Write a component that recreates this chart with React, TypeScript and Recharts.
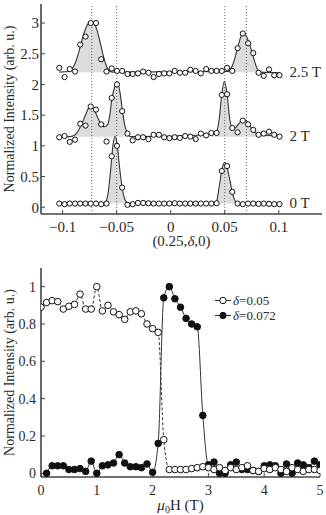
import {
  ComposedChart,
  Scatter,
  Line,
  Area,
  XAxis,
  YAxis,
  ReferenceLine,
  ReferenceDot,
  Legend,
} from 'recharts';

const SERIF = '"Liberation Serif", "Times New Roman", serif';
const INK = '#2a2a2a';
const FRAME = '#444';
const SHADE = '#dcdcdc';

// ---- upper panel: scans along (0.25, δ, 0) at 0, 2 and 2.5 T ----
const qPos = [
  -0.1031, -0.0982, -0.0934, -0.0885, -0.0837, -0.0788, -0.074, -0.0691, -0.0643, -0.0594,
  -0.0546, -0.0497, -0.0449, -0.04, -0.0352, -0.0303, -0.0255, -0.0206, -0.0158, -0.0109,
  -0.006, -0.0012, 0.0037, 0.0085, 0.0134, 0.0182, 0.0231, 0.0279, 0.0328, 0.0376,
  0.0425, 0.0473, 0.0522, 0.057, 0.0619, 0.0667, 0.0716, 0.0764, 0.0813, 0.0861,
  0.091, 0.0958, 0.1007,
];
const scan0T = [
  0.06, 0.05, 0.06, 0.06, 0.06, 0.06, 0.06, 0.06, 0.05, 0.06,
  0.83, 1.0, 0.32, 0.04, 0.05, 0.07, 0.07, 0.065, 0.06, 0.06,
  0.06, 0.06, 0.065, 0.06, 0.06, 0.06, 0.06, 0.06, 0.06, 0.06,
  0.065, 0.59, 0.67, 0.25, 0.06, 0.05, 0.06, 0.06, 0.055, 0.06,
  0.055, 0.05, 0.05,
];
const scan2T = [
  1.14, 1.16, 1.065, 1.1, 1.36, 1.33, 1.64, 1.59, 1.35, 1.07,
  1.78, 2.0, 1.565, 1.2, 1.09, 1.14, 1.14, 1.11, 1.18, 1.18,
  1.14, 1.125, 1.14, 1.13, 1.16, 1.15, 1.11, 1.2, 1.17, 1.21,
  1.21, 1.83, 1.84, 1.29, 1.22, 1.41, 1.35, 1.26, 1.18, 1.2,
  1.23, 1.18, 1.15,
];
const scan25T = [
  2.27, 2.12, 2.25, 2.21, 2.65, 2.78, 3.0, 3.0, 2.41, 2.21,
  2.26, 2.22, 2.22, 2.17, 2.17, 2.18, 2.21, 2.19, 2.12, 2.17,
  2.18, 2.18, 2.22, 2.19, 2.19, 2.24, 2.22, 2.18, 2.25, 2.22,
  2.22, 2.22, 2.27, 2.22, 2.59, 2.83, 2.67, 2.51, 2.19, 2.14,
  2.245, 2.15, 2.15,
];

// fitted peak profiles, [q, intensity]
const fit0T: [number, number][] = [
  [-0.103, 0.06], [-0.063, 0.06], [-0.0605, 0.08], [-0.058, 0.22], [-0.0555, 0.62],
  [-0.0535, 1.0], [-0.0515, 1.15], [-0.0495, 1.02], [-0.0475, 0.68], [-0.045, 0.33],
  [-0.0425, 0.13], [-0.04, 0.07], [-0.037, 0.06], [0.04, 0.06], [0.0425, 0.1],
  [0.045, 0.35], [0.0475, 0.62], [0.05, 0.73], [0.0525, 0.62], [0.055, 0.42],
  [0.0575, 0.2], [0.06, 0.09], [0.0625, 0.06], [0.101, 0.06],
];
const fit2T: [number, number][] = [
  [-0.103, 1.14], [-0.093, 1.15], [-0.0885, 1.18], [-0.0845, 1.28], [-0.0805, 1.43],
  [-0.077, 1.58], [-0.0745, 1.66], [-0.072, 1.62], [-0.0685, 1.5], [-0.065, 1.37],
  [-0.0615, 1.31], [-0.0585, 1.34], [-0.0565, 1.48], [-0.0545, 1.75], [-0.052, 1.95],
  [-0.0495, 2.04], [-0.047, 1.88], [-0.0445, 1.55], [-0.042, 1.3], [-0.0395, 1.19],
  [-0.037, 1.15], [0.037, 1.18], [0.0415, 1.2], [0.045, 1.45], [0.0472, 1.83],
  [0.0497, 2.05], [0.0522, 1.84], [0.0545, 1.45], [0.057, 1.29], [0.0595, 1.29],
  [0.0625, 1.35], [0.0655, 1.41], [0.068, 1.43], [0.0715, 1.38], [0.075, 1.28],
  [0.079, 1.2], [0.084, 1.18], [0.101, 1.16],
];
const fit25T: [number, number][] = [
  [-0.103, 2.2], [-0.0935, 2.21], [-0.091, 2.26], [-0.0885, 2.34], [-0.086, 2.47],
  [-0.0835, 2.63], [-0.081, 2.79], [-0.0785, 2.92], [-0.076, 3.0], [-0.0735, 3.03],
  [-0.071, 3.0], [-0.0685, 2.9], [-0.066, 2.74], [-0.0635, 2.55], [-0.061, 2.38],
  [-0.0585, 2.26], [-0.056, 2.21], [-0.053, 2.2], [0.053, 2.21], [0.0555, 2.25],
  [0.058, 2.35], [0.0605, 2.5], [0.063, 2.67], [0.0655, 2.8], [0.0675, 2.84],
  [0.07, 2.79], [0.0725, 2.68], [0.075, 2.54], [0.0775, 2.38], [0.08, 2.26],
  [0.0825, 2.2], [0.101, 2.19],
];

const peakMarks = [-0.073, -0.05, 0.05, 0.07];
const traceNames = ['0 T', '2 T', '2.5 T'];
const traceBase = [0.07, 1.17, 2.2];
const qTicks = [-0.1, -0.05, 0, 0.05, 0.1];
const qIntTicks = [0, 0.5, 1, 1.5, 2, 2.5, 3];

// ---- lower panel: peak intensity vs field ----
const field = [
  0, 0.1, 0.2, 0.3, 0.4, 0.5, 0.6, 0.7, 0.8, 0.9,
  1, 1.1, 1.2, 1.3, 1.4, 1.5, 1.6, 1.7, 1.8, 1.9,
  2, 2.1, 2.2, 2.3, 2.4, 2.5, 2.6, 2.7, 2.8, 2.9,
  3, 3.1, 3.2, 3.3, 3.4, 3.5, 3.6, 3.7, 3.8, 3.9,
  4, 4.1, 4.2, 4.3, 4.4, 4.5, 4.6, 4.7, 4.8, 4.9, 5,
];
const int005 = [
  0.89, 0.915, 0.925, 0.92, 0.88, 0.895, 0.905, 0.96, 0.88, 0.88,
  1.0, 0.87, 0.9, 0.865, 0.85, 0.825, 0.865, 0.87, 0.855, 0.8,
  0.775, 0.755, 0.18, 0.02, 0.02, 0.02, 0.02, 0.025, 0.03, 0.035,
  0.03, 0.02, 0.03, 0.015, 0.03, 0.02, 0.03, 0.04, 0.015, 0.01,
  0.025, 0.02, 0.03, 0.02, 0.01, 0.03, 0.02, 0.01, 0.02, 0.02, 0.015,
];
// δ=0.072 starts at 0.1 T
const int0072 = [
  0.0, 0.04, 0.04, 0.04, 0.02, 0.02, 0.025, 0.01, 0.065, 0.0,
  0.04, 0.045, 0.055, 0.1, 0.055, 0.035, 0.035, 0.03, 0.05, 0.005,
  0.16, 0.94, 1.0, 0.935, 0.89, 0.83, 0.8, 0.785, 0.31, 0.045,
  0.06, 0.0, 0.0, 0.045, 0.06, 0.02, 0.02, 0.015, 0.01, 0.04,
  0.045, 0.04, 0.0, 0.05, 0.0, 0.055, 0.045, 0.03, 0.065, 0.045,
];
const fieldTicks = [0, 1, 2, 3, 4, 5];
const fieldIntTicks = [0, 0.2, 0.4, 0.6, 0.8, 1];

const toPts = (xs: number[], ys: number[]) => xs.map((x, i) => ({ x, y: ys[i] }));
const fromPairs = (pairs: [number, number][]) => pairs.map(([x, y]) => ({ x, y }));
const slice = (pairs: [number, number][], lo: number, hi: number) =>
  fromPairs(pairs.filter(([x]) => x >= lo && x <= hi));

const shaded = [
  { data: slice(fit0T, -0.063, -0.037), base: 0.06 },
  { data: slice(fit0T, 0.04, 0.0625), base: 0.06 },
  { data: slice(fit2T, -0.093, -0.037), base: 1.15 },
  { data: slice(fit2T, 0.037, 0.101), base: 1.15 },
  { data: slice(fit25T, -0.103, -0.053), base: 2.2 },
  { data: slice(fit25T, 0.053, 0.0825), base: 2.2 },
];

const minus = (v: number) => (v < 0 ? `\u2212${Math.abs(v)}` : `${v}`);

const openCircle = (r: number) => (p: any) =>
  <circle cx={p.cx} cy={p.cy} r={r} fill="#fff" stroke="#111" strokeWidth={1} />;

function YTitle({ viewBox }: any) {
  const cy = viewBox.y + viewBox.height / 2;
  return (
    <text
      transform={`translate(14 ${cy}) rotate(-90)`}
      textAnchor="middle"
      fill={INK}
      fontSize={14}
      fontFamily={SERIF}
    >
      Normalized Intensity (arb. u.)
    </text>
  );
}

function QTitle({ viewBox }: any) {
  return (
    <text x={viewBox.x + viewBox.width / 2} y={viewBox.y + 32} textAnchor="middle" fill={INK} fontSize={15} fontFamily={SERIF}>
      (0.25,<tspan fontStyle="italic">δ</tspan>,0)
    </text>
  );
}

function FieldTitle({ viewBox }: any) {
  return (
    <text x={viewBox.x + viewBox.width / 2} y={viewBox.y + 33} textAnchor="middle" fill={INK} fontSize={15} fontFamily={SERIF}>
      <tspan fontStyle="italic">μ</tspan>
      <tspan fontSize={10} dy={3}>0</tspan>
      <tspan dy={-3}>H (T)</tspan>
    </text>
  );
}

const frameLine = { stroke: FRAME, strokeWidth: 1.6 };
const tickLine = { stroke: FRAME, strokeWidth: 1 };

function QScanChart() {
  const tickStyle = { fill: INK, fontSize: 15, fontFamily: SERIF };
  const scans = [scan0T, scan2T, scan25T];
  const fits = [fit0T, fit2T, fit25T];
  return (
    <ComposedChart width={326} height={250} margin={{ top: 4, right: 4, bottom: 0, left: 0 }}>
      <XAxis
        type="number"
        dataKey="x"
        domain={[-0.12, 0.14]}
        ticks={qTicks}
        allowDataOverflow
        height={36}
        tickSize={-4}
        tickMargin={11}
        tickFormatter={minus}
        axisLine={frameLine}
        tickLine={tickLine}
        tick={tickStyle}
        label={{ content: QTitle }}
      />
      <XAxis xAxisId="top" orientation="top" type="number" domain={[-0.12, 0.14]} ticks={qTicks}
        height={0} tickSize={-4} tick={false} axisLine={frameLine} tickLine={tickLine} />
      <YAxis
        type="number"
        dataKey="y"
        domain={[-0.11, 3.31]}
        ticks={qIntTicks}
        allowDataOverflow
        width={41}
        tickSize={-4}
        tickMargin={6}
        axisLine={frameLine}
        tickLine={tickLine}
        tick={tickStyle}
        label={{ content: YTitle }}
      />
      <YAxis yAxisId="right" orientation="right" domain={[-0.11, 3.31]} ticks={qIntTicks}
        width={0} tickSize={-4} tick={false} axisLine={frameLine} tickLine={tickLine} />

      {shaded.map((s, i) => (
        <Area key={`sh${i}`} data={s.data} dataKey="y" baseValue={s.base} type="monotone"
          stroke="none" fill={SHADE} fillOpacity={1} isAnimationActive={false} />
      ))}
      {peakMarks.map((q) => (
        <ReferenceLine key={q} x={q} stroke="#555" strokeWidth={0.9} strokeDasharray="1 2" />
      ))}
      {fits.map((f, i) => (
        <Line key={`fit${i}`} data={fromPairs(f)} dataKey="y" type="monotone" dot={false}
          stroke="#333" strokeWidth={1.1} isAnimationActive={false} />
      ))}
      {scans.map((s, i) => (
        <Scatter key={`sc${i}`} data={toPts(qPos, s)} shape={openCircle(2.6)} isAnimationActive={false} />
      ))}
      {traceNames.map((name, i) => (
        <ReferenceDot key={name} x={qPos[qPos.length - 1]} y={traceBase[i]} r={0} fill="none" stroke="none"
          label={{ value: name, position: 'right', offset: 10, fill: INK, fontSize: 15, fontFamily: SERIF }} />
      ))}
    </ComposedChart>
  );
}

const legendFilled: Record<string, boolean> = { 'δ=0.05': false, 'δ=0.072': true };
const legendOrder = ['δ=0.05', 'δ=0.072'];

function FieldLegend({ payload }: any) {
  const rows = [...(payload || [])].sort(
    (a: any, b: any) => legendOrder.indexOf(a.value) - legendOrder.indexOf(b.value),
  );
  return (
    <div style={{ fontFamily: SERIF, fontSize: 13, color: INK }}>
      {rows.map((e: any) => (
        <div key={e.value} style={{ display: 'flex', alignItems: 'center', height: 15 }}>
          <svg width={16} height={15}>
            <line x1={0} y1={7.5} x2={16} y2={7.5} stroke="#333" strokeWidth={1} />
            <circle cx={8} cy={7.5} r={3.2} fill={legendFilled[e.value] ? '#111' : '#fff'} stroke="#111" strokeWidth={1} />
          </svg>
          <span style={{ marginLeft: 2, lineHeight: '15px' }}>
            <i>{e.value.slice(0, 1)}</i>
            {e.value.slice(1)}
          </span>
        </div>
      ))}
    </div>
  );
}

function FieldChart() {
  const tickStyle = { fill: INK, fontSize: 14, fontFamily: SERIF };
  const filledDot = (p: any) =>
    <circle key={`f${p.index}`} cx={p.cx} cy={p.cy} r={3.3} fill="#111" stroke="#111" strokeWidth={1} />;
  const openDot = (p: any) =>
    <circle key={`o${p.index}`} cx={p.cx} cy={p.cy} r={3.3} fill="#fff" stroke="#111" strokeWidth={1} />;
  return (
    <ComposedChart width={326} height={253} margin={{ top: 6, right: 6, bottom: 0, left: 0 }}>
      <XAxis
        type="number"
        dataKey="x"
        domain={[0, 5]}
        ticks={fieldTicks}
        allowDataOverflow
        height={38}
        tickSize={-4}
        tickMargin={12}
        axisLine={frameLine}
        tickLine={tickLine}
        tick={tickStyle}
        label={{ content: FieldTitle }}
      />
      <XAxis xAxisId="top" orientation="top" type="number" domain={[0, 5]} ticks={fieldTicks}
        height={0} tickSize={-4} tick={false} axisLine={frameLine} tickLine={tickLine} />
      <YAxis
        type="number"
        dataKey="y"
        domain={[-0.02, 1.1]}
        ticks={fieldIntTicks}
        allowDataOverflow
        width={41}
        tickSize={-4}
        tickMargin={9}
        axisLine={frameLine}
        tickLine={tickLine}
        tick={tickStyle}
        label={{ content: YTitle }}
      />
      <YAxis yAxisId="right" orientation="right" domain={[-0.02, 1.1]} ticks={fieldIntTicks}
        width={0} tickSize={-4} tick={false} axisLine={frameLine} tickLine={tickLine} />

      <Line data={toPts(field.slice(1), int0072)} dataKey="y" name="δ=0.072" type="monotone"
        stroke="#333" strokeWidth={1} dot={filledDot} isAnimationActive={false} />
      <Line data={toPts(field, int005)} dataKey="y" name="δ=0.05" type="monotone"
        stroke="#333" strokeWidth={1} strokeDasharray="3 2" dot={openDot} isAnimationActive={false} />
      <Legend
        verticalAlign="middle"
        align="center"
        content={FieldLegend}
        wrapperStyle={{ left: 215, top: 31, width: 100 }}
      />
    </ComposedChart>
  );
}

export default function App() {
  return (
    <div style={{ position: 'absolute', left: 0, top: 0, width: 326, height: 515, background: '#fff' }}>
      <div style={{ position: 'absolute', left: 0, top: 0 }}>
        <QScanChart />
      </div>
      <div style={{ position: 'absolute', left: 0, top: 262 }}>
        <FieldChart />
      </div>
    </div>
  );
}
